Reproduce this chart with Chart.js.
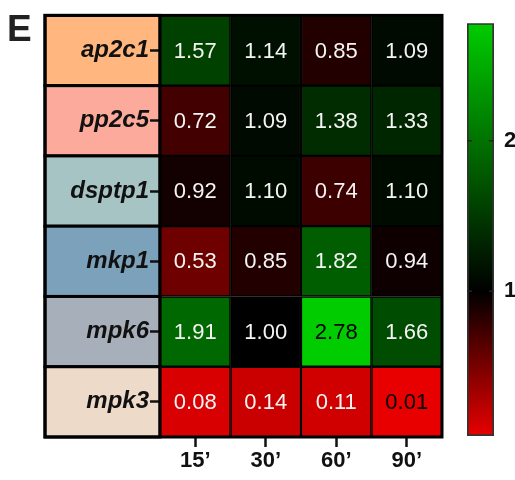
<!DOCTYPE html>
<html>
<head>
<meta charset="utf-8">
<script src="https://cdn.jsdelivr.net/npm/chart.js@4.4.1/dist/chart.umd.min.js"></script>
<style>
    html, body { margin: 0; padding: 0; background: #fff; }
    #wrap { position: relative; width: 515px; height: 480px; }
    #heat { position: absolute; left: 0; top: 0; }
    #bar { position: absolute; left: 460px; top: 0; }
</style>
</head>
<body>
<div id="wrap">
    <canvas id="heat" width="515" height="480"></canvas>
    <canvas id="bar" width="55" height="480"></canvas>
</div>
<script>
// rows (genes) and time points
const rowLabels = ['ap2c1', 'pp2c5', 'dsptp1', 'mkp1', 'mpk6', 'mpk3'];
const colLabels = ['15’', '30’', '60’', '90’'];

// fold change per time point, one value per gene (same order as rowLabels)
const v15 = [1.57, 0.72, 0.92, 0.53, 1.91, 0.08];
const v30 = [1.14, 1.09, 1.10, 0.85, 1.00, 0.14];
const v60 = [0.85, 1.38, 0.74, 1.82, 2.78, 0.11];
const v90 = [1.09, 1.33, 1.10, 0.94, 1.66, 0.01];
const columns = [v15, v30, v60, v90];

// colour bar: axis range and ticks
const barMin = 0.04;
const barMax = 2.78;
const barTicks = [1, 2];

// styling
const rowColors = ['#ffb77f', '#fbaa9b', '#a7c4c4', '#7ba1bb', '#a7afbb', '#eedac9'];
const FONT = "'Liberation Sans', Arial, sans-serif";
const allValues = columns.flat();
const minV = Math.min(...allValues);
const maxV = Math.max(...allValues);

function heatColor(v) {
    if (v <= 1) {
        let t = Math.min(1, (1 - v) / (1 - minV));
        return 'rgb(' + Math.round(232 * t) + ',0,0)';
    }
    let t = Math.min(1, (v - 1) / (maxV - 1));
    return 'rgb(0,' + Math.round(204 * t) + ',0)';
}

function textColor(v) {
    return (v > 2.5 || v < 0.05) ? '#000' : '#f4f4f4';
}

const frameLeft = 45;

const heatPlugin = {
    id: 'heatExtras',
    beforeDraw: function (chart) {
        let ctx = chart.ctx,
            ca = chart.chartArea,
            y = chart.scales.y,
            half = (y.getPixelForValue(1) - y.getPixelForValue(0)) / 2;
        ctx.save();
        rowLabels.forEach((lab, i) => {
            let yc = y.getPixelForValue(i);
            ctx.fillStyle = rowColors[i];
            ctx.fillRect(frameLeft, yc - half, ca.left - frameLeft, half * 2);
            ctx.strokeStyle = '#000';
            ctx.lineWidth = 3;
            ctx.strokeRect(frameLeft, yc - half, ca.left - frameLeft, half * 2);
        });
        ctx.restore();
    },
    afterDatasetsDraw: function (chart) {
        let ctx = chart.ctx,
            ca = chart.chartArea;
        ctx.save();
        ctx.font = '22px ' + FONT;
        ctx.textAlign = 'center';
        ctx.textBaseline = 'middle';
        chart.data.datasets.forEach((ds, c) => {
            let meta = chart.getDatasetMeta(c);
            meta.data.forEach((el, r) => {
                let v = columns[c][r],
                    p = el.getCenterPoint();
                ctx.fillStyle = textColor(v);
                ctx.fillText(v.toFixed(2), p.x, p.y + 1);
            });
        });
        // outer frame
        ctx.strokeStyle = '#000';
        ctx.lineWidth = 3;
        ctx.strokeRect(frameLeft, ca.top, ca.right - frameLeft, ca.bottom - ca.top);
        ctx.beginPath();
        ctx.moveTo(ca.left, ca.top);
        ctx.lineTo(ca.left, ca.bottom);
        ctx.stroke();
        // panel letter
        ctx.fillStyle = '#222';
        ctx.font = 'bold 37px ' + FONT;
        ctx.textAlign = 'left';
        ctx.textBaseline = 'alphabetic';
        ctx.fillText('E', 7, 41);
        ctx.restore();
    }
};

new Chart(document.getElementById('heat'), {
    type: 'bar',
    data: {
        labels: rowLabels,
        datasets: columns.map((vals, c) => ({
            label: colLabels[c],
            data: vals.map(() => [c, c + 1]),
            backgroundColor: ctx => heatColor(vals[ctx.dataIndex]),
            borderColor: '#000',
            borderWidth: 1.5,
            borderSkipped: false,
            grouped: false,
            barPercentage: 1,
            categoryPercentage: 1
        }))
    },
    options: {
        indexAxis: 'y',
        responsive: false,
        animation: false,
        layout: {padding: {left: frameLeft, right: 73, top: 14, bottom: 0}},
        plugins: {legend: {display: false}, tooltip: {enabled: false}},
        scales: {
            x: {
                type: 'linear',
                min: 0,
                max: colLabels.length,
                afterBuildTicks: s => {
                    s.ticks = colLabels.map((l, i) => ({value: i + 0.5}));
                },
                afterFit: s => {
                    s.height = 43;
                },
                ticks: {
                    callback: (v, i) => colLabels[i],
                    font: {family: FONT, size: 22, weight: 'bold'},
                    color: '#111',
                    padding: 1,
                    maxRotation: 0,
                    autoSkip: false
                },
                grid: {drawOnChartArea: false, tickLength: 10, tickWidth: 2.5, tickColor: '#111'},
                border: {display: false}
            },
            y: {
                type: 'category',
                offset: true,
                afterFit: s => {
                    s.width = 115;
                },
                ticks: {
                    font: {family: FONT, size: 24, weight: 'bold', style: 'italic'},
                    color: '#111',
                    padding: 1
                },
                grid: {offset: false, drawOnChartArea: false, tickLength: 10, tickWidth: 2.5, tickColor: '#111'},
                border: {display: false}
            }
        }
    },
    plugins: [heatPlugin]
});

const barTickPlugin = {
    id: 'barTicks',
    afterDatasetsDraw: function (chart) {
        let ctx = chart.ctx,
            ca = chart.chartArea,
            y = chart.scales.y;
        ctx.save();
        ctx.strokeStyle = '#222';
        ctx.lineWidth = 1.5;
        barTicks.forEach(v => {
            let py = y.getPixelForValue(v);
            ctx.beginPath();
            ctx.moveTo(ca.left, py);
            ctx.lineTo(ca.left + 5, py);
            ctx.moveTo(ca.right - 5, py);
            ctx.lineTo(ca.right, py);
            ctx.stroke();
        });
        ctx.restore();
    }
};

new Chart(document.getElementById('bar'), {
    type: 'bar',
    data: {
        labels: ['scale'],
        datasets: [{
            data: [[barMin, barMax]],
            backgroundColor: ctx => {
                let chart = ctx.chart,
                    ca = chart.chartArea;
                if (!ca) return '#000';
                let y = chart.scales.y,
                    g = chart.ctx.createLinearGradient(0, y.getPixelForValue(barMax), 0, y.getPixelForValue(barMin));
                g.addColorStop(0, heatColor(barMax));
                g.addColorStop((barMax - 1) / (barMax - barMin), '#000');
                g.addColorStop(1, heatColor(minV));
                return g;
            },
            borderColor: '#333',
            borderWidth: 2,
            borderSkipped: false,
            barPercentage: 1,
            categoryPercentage: 1
        }]
    },
    options: {
        responsive: false,
        animation: false,
        layout: {padding: {left: 7, right: 0, top: 14, bottom: 44}},
        plugins: {legend: {display: false}, tooltip: {enabled: false}},
        scales: {
            x: {display: false},
            y: {
                position: 'right',
                min: barMin,
                max: barMax,
                afterBuildTicks: s => {
                    s.ticks = barTicks.map(v => ({value: v}));
                },
                afterFit: s => {
                    s.width = 21;
                },
                ticks: {
                    font: {family: FONT, size: 22, weight: 'bold'},
                    color: '#111',
                    padding: 10
                },
                grid: {display: false, drawTicks: false},
                border: {display: false}
            }
        }
    },
    plugins: [barTickPlugin]
});
</script>
</body>
</html>
